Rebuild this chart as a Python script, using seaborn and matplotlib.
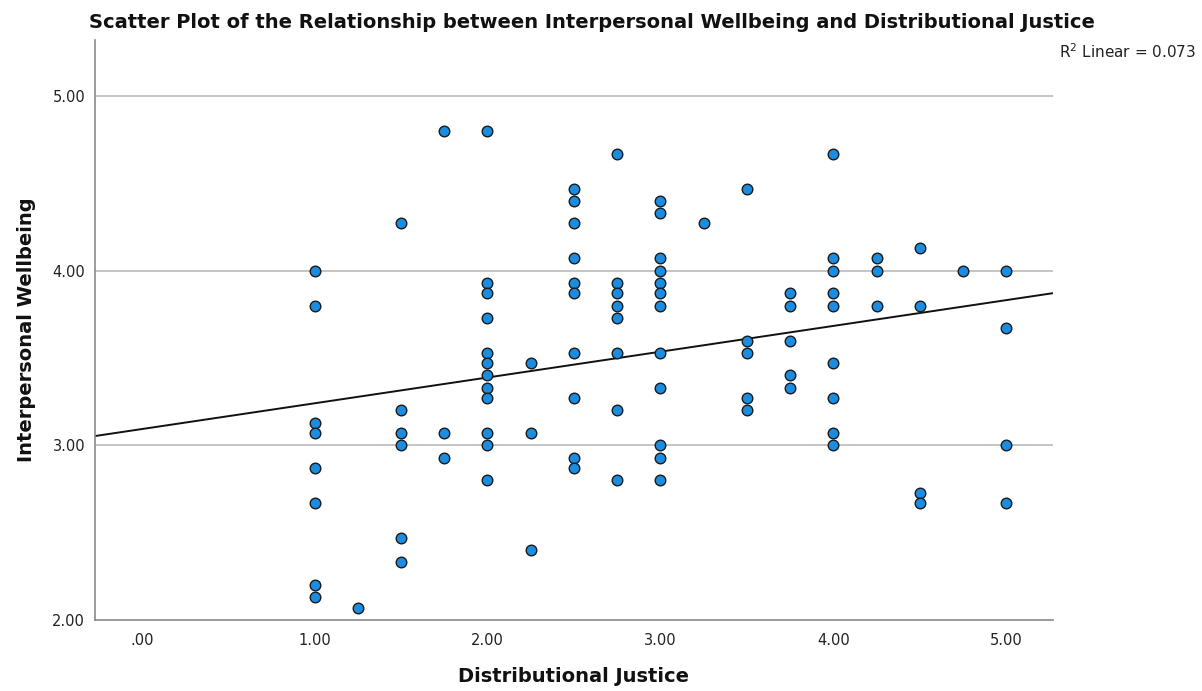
import matplotlib
matplotlib.use("Agg")
import matplotlib.pyplot as plt
import matplotlib.ticker as mticker
import numpy as np
import pandas as pd
import seaborn as sns

# Distributional justice score for each respondent
justice = (
    [1.00] * 8 + [1.25] * 1 + [1.50] * 6 + [1.75] * 3 + [2.00] * 12 + [2.25] * 3
    + [2.50] * 10 + [2.75] * 8 + [3.00] * 12 + [3.25] * 1 + [3.50] * 5
    + [3.75] * 5 + [4.00] * 9 + [4.25] * 3 + [4.50] * 4 + [4.75] * 1 + [5.00] * 4
)

# Interpersonal wellbeing score for each respondent (same order)
wellbeing = [
    # 1.00
    4.00, 3.80, 3.13, 3.07, 2.87, 2.67, 2.20, 2.13,
    # 1.25
    2.07,
    # 1.50
    4.27, 3.20, 3.07, 3.00, 2.47, 2.33,
    # 1.75
    4.80, 3.07, 2.93,
    # 2.00
    4.80, 3.93, 3.87, 3.73, 3.53, 3.47, 3.40, 3.33, 3.27, 3.07, 3.00, 2.80,
    # 2.25
    3.47, 3.07, 2.40,
    # 2.50
    4.47, 4.40, 4.27, 4.07, 3.93, 3.87, 3.53, 3.27, 2.93, 2.87,
    # 2.75
    4.67, 3.93, 3.87, 3.80, 3.73, 3.53, 3.20, 2.80,
    # 3.00
    4.40, 4.33, 4.07, 4.00, 3.93, 3.87, 3.80, 3.53, 3.33, 3.00, 2.93, 2.80,
    # 3.25
    4.27,
    # 3.50
    4.47, 3.60, 3.53, 3.27, 3.20,
    # 3.75
    3.87, 3.80, 3.60, 3.40, 3.33,
    # 4.00
    4.67, 4.07, 4.00, 3.87, 3.80, 3.47, 3.27, 3.07, 3.00,
    # 4.25
    4.07, 4.00, 3.80,
    # 4.50
    4.13, 3.80, 2.73, 2.67,
    # 4.75
    4.00,
    # 5.00
    4.00, 3.67, 3.00, 2.67,
]

x_ticks = [0, 1, 2, 3, 4, 5]
y_ticks = [2, 3, 4, 5]

title_text = "Scatter Plot of the Relationship between Interpersonal Wellbeing and Distributional Justice"
x_label = "Distributional Justice"
y_label = "Interpersonal Wellbeing"
fit_label = "R$^2$ Linear = 0.073"

df = pd.DataFrame({"justice": justice, "wellbeing": wellbeing})

sns.set_theme(style="white")
plt.rcParams["font.family"] = ["DejaVu Sans"]

fig = plt.figure(figsize=(12.02, 6.91), dpi=100)
ax = fig.add_axes([0.079, 0.1027, 0.797, 0.8393])

ax.set_xlim(-0.27, 5.27)
ax.set_ylim(2.0, 5.32)

# horizontal reference lines
for v in [3, 4, 5]:
    ax.axhline(v, color="#c4c4c4", lw=1.4, zorder=0)

sns.regplot(
    data=df, x="justice", y="wellbeing", ax=ax, ci=None, truncate=False,
    scatter_kws=dict(s=58, color="#1a8de0", edgecolor="#1a1a1a",
                     linewidths=1.0, alpha=1, zorder=3),
    line_kws=dict(color="#111111", lw=1.4, zorder=2),
)

ax.set_xlim(-0.27, 5.27)
ax.set_ylim(2.0, 5.32)
ax.set_xticks(x_ticks)
ax.set_yticks(y_ticks)
ax.xaxis.set_major_formatter(mticker.FuncFormatter(
    lambda v, p: f"{v:.2f}".lstrip("0") if v == 0 else f"{v:.2f}"))
ax.yaxis.set_major_formatter(mticker.FormatStrFormatter("%.2f"))
ax.tick_params(axis="both", length=0, labelsize=10.5, colors="#222222")
ax.tick_params(axis="x", pad=9)
ax.tick_params(axis="y", pad=7)

for side in ["top", "right"]:
    ax.spines[side].set_visible(False)
for side in ["left", "bottom"]:
    ax.spines[side].set_color("#8a8a8a")
    ax.spines[side].set_linewidth(1.2)

ax.set_xlabel(x_label, fontsize=14, fontweight="bold", labelpad=14,
              color="#111111")
ax.set_ylabel(y_label, fontsize=14, fontweight="bold", labelpad=12,
              color="#111111")

fig.text(0.4925, 0.968, title_text, ha="center", va="center", fontsize=14,
         fontweight="bold", color="#111111")
fig.text(0.9955, 0.925, fit_label, ha="right", va="center", fontsize=11,
         color="#222222")

fig.savefig("out.png", dpi=100)
